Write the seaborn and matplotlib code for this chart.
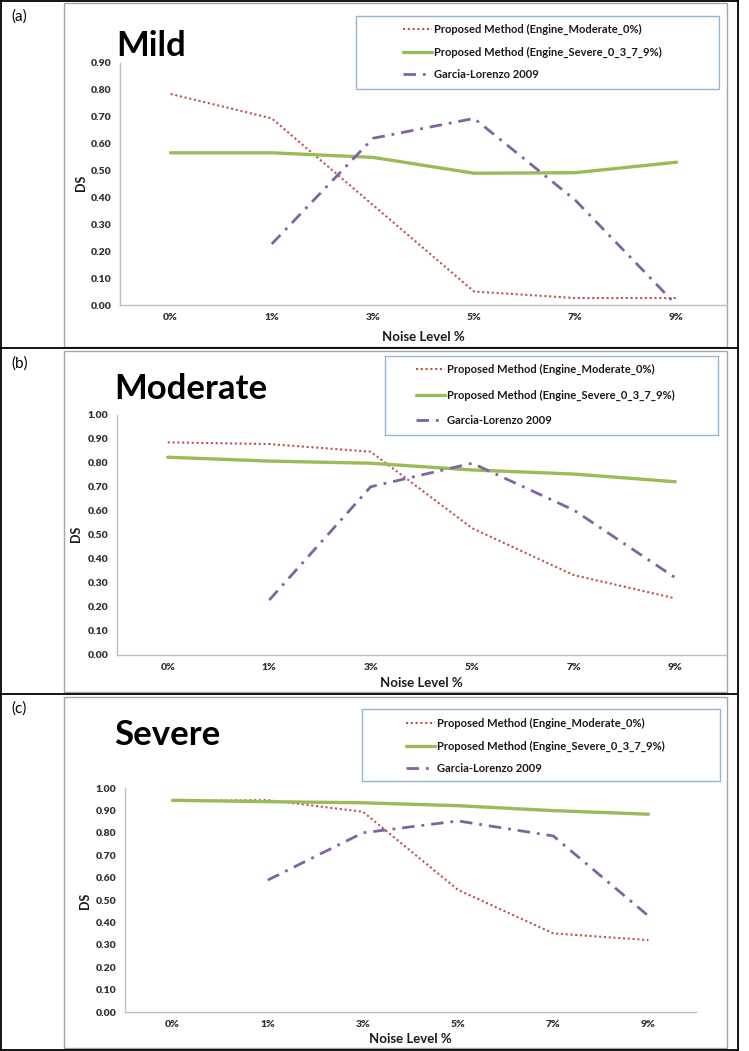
import numpy as np
import pandas as pd
import matplotlib
matplotlib.use("Agg")
import matplotlib.pyplot as plt
import seaborn as sns
from matplotlib.patches import Rectangle
from matplotlib.lines import Line2D

sns.set_theme(style="white")
plt.rcParams["font.family"] = ["Lato", "DejaVu Sans"]

# Data
noise_levels = ["0%", "1%", "3%", "5%", "7%", "9%"]
series_names = ["Proposed Method (Engine_Moderate_0%)",
                "Proposed Method (Engine_Severe_0_3_7_9%)",
                "Garcia-Lorenzo 2009"]

mild_moderate0 = [0.785, 0.694, 0.372, 0.050, 0.026, 0.026]
mild_severe = [0.566, 0.566, 0.549, 0.490, 0.492, 0.531]
mild_garcia = [np.nan, 0.227, 0.620, 0.694, 0.390, 0.000]

moderate_moderate0 = [0.886, 0.879, 0.847, 0.528, 0.333, 0.236]
moderate_severe = [0.824, 0.808, 0.799, 0.771, 0.754, 0.722]
moderate_garcia = [np.nan, 0.229, 0.701, 0.799, 0.604, 0.322]

severe_moderate0 = [0.942, 0.946, 0.894, 0.545, 0.351, 0.321]
severe_severe = [0.945, 0.939, 0.934, 0.921, 0.899, 0.883]
severe_garcia = [np.nan, 0.589, 0.800, 0.853, 0.786, 0.429]

W, H = 749, 1051
fig = plt.figure(figsize=(W / 100, H / 100), dpi=100)


def rect(x0, y0, x1, y1):
    return [x0 / W, 1 - y1 / H, (x1 - x0) / W, (y1 - y0) / H]


def fx(x):
    return x / W


def fy(y):
    return 1 - y / H


styles = [
    dict(color="#C0504D", linestyle=(0, (1, 1.3)), linewidth=1.5),
    dict(color="#9BBB59", linestyle="-", linewidth=2.4),
    dict(color="#8064A2", linestyle=(0, (4.5, 2.5, 1, 2.5)), linewidth=2.0),
]

panels = [
    dict(letter="(a)", title="Mild", data=[mild_moderate0, mild_severe, mild_garcia], ymax=0.9,
         ax=(120, 63, 727, 305), frame=(64, 3, 727, 347), leg=(356, 16, 719, 89),
         leg_anchor=(403, 52), leg_space=1.0, title_pos=(116, 56), ds=(81, 183), xl=(423, 337), let_y=9),
    dict(letter="(b)", title="Moderate", data=[moderate_moderate0, moderate_severe, moderate_garcia], ymax=1.0,
         ax=(117, 415, 726, 655), frame=(64, 351, 727, 692), leg=(385, 356, 718, 435),
         leg_anchor=(416, 395), leg_space=1.3, title_pos=(114, 399), ds=(76, 534), xl=(421, 683), let_y=356),
    dict(letter="(c)", title="Severe", data=[severe_moderate0, severe_severe, severe_garcia], ymax=1.0,
         ax=(125, 788, 696, 1012), frame=(64, 697, 727, 1048), leg=(362, 709, 720, 781),
         leg_anchor=(406, 746), leg_space=1.0, title_pos=(114, 745), ds=(85, 901), xl=(410, 1039), let_y=701),
]

x_pos = np.arange(len(noise_levels))

for p in panels:
    # gray chart frame
    x0, y0, x1, y1 = p["frame"]
    fig.add_artist(Rectangle((fx(x0), fy(y1)), (x1 - x0) / W, (y1 - y0) / H,
                             transform=fig.transFigure, fill=False, edgecolor="#A6A6A6",
                             linewidth=1.0, zorder=-1))

    ax = fig.add_axes(rect(*p["ax"]))
    ax.set_facecolor("none")
    for vals, name, st in zip(p["data"], series_names, styles):
        df = pd.DataFrame({"x": x_pos, "y": vals}).dropna()
        sns.lineplot(data=df, x="x", y="y", ax=ax, label=name, **st)

    yt = np.arange(0, p["ymax"] + 0.001, 0.1)
    ax.set_xlim(-0.5, len(noise_levels) - 0.5)
    ax.set_ylim(0, p["ymax"])
    ax.set_xticks(x_pos)
    ax.set_xticklabels(noise_levels, fontweight="heavy")
    ax.set_yticks(yt)
    ax.set_yticklabels([f"{v:.2f}" for v in yt], fontweight="heavy")
    ax.tick_params(length=0, labelsize=7.5, labelcolor="#333333", pad=6)
    for s in ["top", "right"]:
        ax.spines[s].set_visible(False)
    for s in ["left", "bottom"]:
        ax.spines[s].set_color("#BFBFBF")
        ax.spines[s].set_linewidth(1.0)
    ax.set_xlabel("")
    ax.set_ylabel("")

    # legend box and entries
    handles, labels = ax.get_legend_handles_labels()
    ax.get_legend().remove()
    lx0, ly0, lx1, ly1 = p["leg"]
    fig.add_artist(Rectangle((fx(lx0), fy(ly1)), (lx1 - lx0) / W, (ly1 - ly0) / H,
                             transform=fig.transFigure, facecolor="white", edgecolor="#95B3D7",
                             linewidth=1.0, zorder=4))
    leg = fig.legend(handles, labels, loc="center left",
                     bbox_to_anchor=(fx(p["leg_anchor"][0]), fy(p["leg_anchor"][1])),
                     bbox_transform=fig.transFigure, frameon=False, borderpad=0, borderaxespad=0,
                     handlelength=2.6, handletextpad=0.15, labelspacing=p["leg_space"],
                     prop=dict(size=8, weight="bold"))
    leg.set_zorder(6)
    for t in leg.get_texts():
        t.set_color("#1a1a1a")

    fig.text(fx(p["title_pos"][0]), fy(p["title_pos"][1]), p["title"], fontsize=25,
             fontweight="bold", color="black", ha="left", va="baseline")
    fig.text(fx(p["ds"][0]), fy(p["ds"][1]), "DS", rotation=90, fontsize=9, fontweight="bold",
             color="#1a1a1a", ha="center", va="center")
    fig.text(fx(p["xl"][0]), fy(p["xl"][1]), "Noise Level %", fontsize=9.5, fontweight="bold",
             color="#1a1a1a", ha="center", va="center")
    fig.text(fx(11), fy(p["let_y"]), p["letter"], fontsize=11, color="black", ha="left", va="top")

# black table borders
for y in [1, 348, 694, 1050]:
    fig.add_artist(Line2D([0, fx(738)], [fy(y), fy(y)], transform=fig.transFigure, color="black", linewidth=1.3))
for x in [1, 738]:
    fig.add_artist(Line2D([fx(x), fx(x)], [fy(0), fy(1051)], transform=fig.transFigure, color="black", linewidth=1.3))

fig.savefig("out.png", dpi=100)
